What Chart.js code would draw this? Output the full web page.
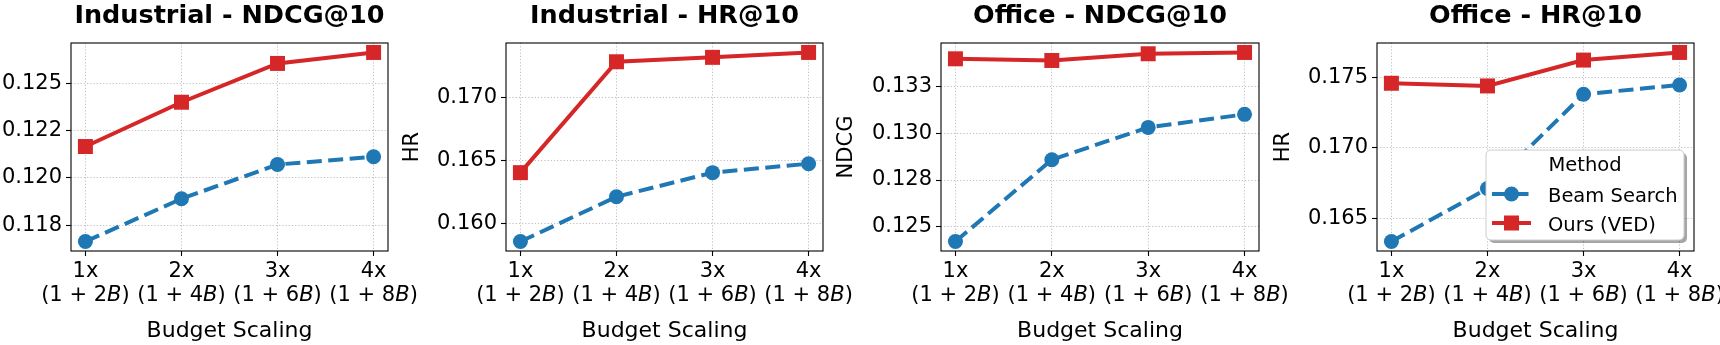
<!DOCTYPE html>
<html>
<head>
<meta charset="utf-8">
<script src="https://cdn.jsdelivr.net/npm/chart.js@4.4.1/dist/chart.umd.min.js"></script>
<style>
  html, body { margin: 0; padding: 0; background: #fff; }
  #wrap { position: relative; width: 1720px; height: 345px; overflow: hidden; }
  canvas { position: absolute; top: 0; }
</style>
</head>
<body>
<div id="wrap">
  <canvas id="c0"></canvas>
  <canvas id="c1"></canvas>
  <canvas id="c2"></canvas>
  <canvas id="c3"></canvas>
</div>
<script>
// x categories
const budgets = ['1x', '2x', '3x', '4x'];
const budgetCost = ['(1 + 2B)', '(1 + 4B)', '(1 + 6B)', '(1 + 8B)'];
const methods = ['Beam Search', 'Ours (VED)'];

// Industrial
const indNdcgBeam = [0.11664, 0.11890, 0.12071, 0.12112];
const indNdcgOurs = [0.12166, 0.12400, 0.12605, 0.12663];
const indHrBeam = [0.15855, 0.16211, 0.16403, 0.16474];
const indHrOurs = [0.16403, 0.17285, 0.17320, 0.17359];

// Office
const offNdcgBeam = [0.12420, 0.12859, 0.13032, 0.13102];
const offNdcgOurs = [0.13400, 0.13391, 0.13427, 0.13434];
const offHrBeam = [0.16338, 0.16713, 0.17380, 0.17446];
const offHrOurs = [0.17458, 0.17439, 0.17622, 0.17676];

// y ticks
const indNdcgTicks = [0.1175, 0.1200, 0.1225, 0.1250];
const indNdcgTickLabels = ['0.118', '0.120', '0.122', '0.125'];
const indHrTicks = [0.160, 0.165, 0.170];
const indHrTickLabels = ['0.160', '0.165', '0.170'];
const offNdcgTicks = [0.1250, 0.1275, 0.1300, 0.1325];
const offNdcgTickLabels = ['0.125', '0.128', '0.130', '0.133'];
const offHrTicks = [0.165, 0.170, 0.175];
const offHrTickLabels = ['0.165', '0.170', '0.175'];

const BLUE = '#1f77b4';
const RED = '#d62728';
const FONT = "'DejaVu Sans', sans-serif";

const panels = [
  { id: 'c0', left: 0, width: 440, axLeft: 71, axRight: 388, title: 'Industrial - NDCG@10', ylabel: '',
    beam: indNdcgBeam, ours: indNdcgOurs, ticks: indNdcgTicks, tickLabels: indNdcgTickLabels },
  { id: 'c1', left: 400, width: 470, axLeft: 506, axRight: 823, title: 'Industrial - HR@10', ylabel: 'HR',
    beam: indHrBeam, ours: indHrOurs, ticks: indHrTicks, tickLabels: indHrTickLabels },
  { id: 'c2', left: 834, width: 470, axLeft: 941, axRight: 1259, title: 'Office - NDCG@10', ylabel: 'NDCG',
    beam: offNdcgBeam, ours: offNdcgOurs, ticks: offNdcgTicks, tickLabels: offNdcgTickLabels },
  { id: 'c3', left: 1271, width: 449, axLeft: 1377, axRight: 1694, title: 'Office - HR@10', ylabel: 'HR',
    beam: offHrBeam, ours: offHrOurs, ticks: offHrTicks, tickLabels: offHrTickLabels, legend: true },
];

function roundRect(ctx, x, y, w, h, r) {
  ctx.beginPath();
  ctx.moveTo(x + r, y);
  ctx.arcTo(x + w, y, x + w, y + h, r);
  ctx.arcTo(x + w, y + h, x, y + h, r);
  ctx.arcTo(x, y + h, x, y, r);
  ctx.arcTo(x, y, x + w, y, r);
  ctx.closePath();
}

// frame, title, two-line x tick labels, legend
const decor = {
  id: 'decor',
  afterDatasetsDraw(chart) {
    const { ctx, chartArea: a } = chart;
    ctx.save();
    ctx.strokeStyle = '#000';
    ctx.lineWidth = 1.1;
    ctx.strokeRect(a.left, a.top, a.right - a.left, a.bottom - a.top);
    ctx.restore();
  },
  afterDraw(chart) {
    const { ctx, chartArea: a } = chart;
    const p = chart.options.plugins.decor;
    const xs = chart.scales.x;
    ctx.save();
    ctx.fillStyle = '#000';
    ctx.textBaseline = 'alphabetic';

    // title
    ctx.font = 'bold 25.5px ' + FONT;
    ctx.textAlign = 'center';
    ctx.fillText(p.title, (a.left + a.right) / 2, 23);

    // x tick labels
    budgets.forEach((b, i) => {
      const x = xs.getPixelForValue(i);
      ctx.font = '21px ' + FONT;
      ctx.textAlign = 'center';
      ctx.fillText(b, x, 277);
      const parts = budgetCost[i].split('B');
      const normal = '21px ' + FONT, ital = 'italic 21px ' + FONT;
      ctx.font = normal;
      const w0 = ctx.measureText(parts[0]).width;
      const w2 = ctx.measureText(parts[1]).width;
      ctx.font = ital;
      const w1 = ctx.measureText('B').width;
      let sx = x - (w0 + w1 + w2) / 2;
      ctx.textAlign = 'left';
      ctx.font = normal; ctx.fillText(parts[0], sx, 301); sx += w0;
      ctx.font = ital; ctx.fillText('B', sx, 301); sx += w1;
      ctx.font = normal; ctx.fillText(parts[1], sx, 301);
    });

    // legend
    if (p.legend) {
      const w = 198, h = 90;
      const lx = a.right - 10 - w, ly = a.bottom - 11 - h;
      ctx.fillStyle = 'rgba(0,0,0,0.35)';
      roundRect(ctx, lx + 3, ly + 3, w, h, 5);
      ctx.fill();
      ctx.fillStyle = '#fff';
      roundRect(ctx, lx, ly, w, h, 5);
      ctx.fill();
      ctx.strokeStyle = '#cccccc';
      ctx.lineWidth = 1;
      ctx.stroke();

      ctx.fillStyle = '#000';
      ctx.font = '19.5px ' + FONT;
      ctx.textAlign = 'center';
      ctx.fillText('Method', lx + w / 2, ly + 21);

      const rows = [
        { label: methods[0], color: BLUE, dash: [15, 6.5], shape: 'circle', y: ly + 44 },
        { label: methods[1], color: RED, dash: [], shape: 'rect', y: ly + 73 },
      ];
      rows.forEach(r => {
        ctx.strokeStyle = r.color;
        ctx.fillStyle = r.color;
        ctx.lineWidth = 4;
        ctx.setLineDash(r.dash);
        ctx.beginPath();
        ctx.moveTo(lx + 6, r.y);
        ctx.lineTo(lx + 45, r.y);
        ctx.stroke();
        ctx.setLineDash([]);
        ctx.beginPath();
        if (r.shape === 'circle') ctx.arc(lx + 25.5, r.y, 7.5, 0, Math.PI * 2);
        else ctx.rect(lx + 25.5 - 7.5, r.y - 7.5, 15, 15);
        ctx.fill();
        ctx.fillStyle = '#000';
        ctx.font = '19.5px ' + FONT;
        ctx.textAlign = 'left';
        ctx.fillText(r.label, lx + 62, r.y + 7.5);
      });
    }
    ctx.restore();
  }
};

panels.forEach(p => {
  const canvas = document.getElementById(p.id);
  canvas.width = p.width;
  canvas.height = 345;
  canvas.style.left = p.left + 'px';

  const all = p.beam.concat(p.ours);
  const lo = Math.min(...all), hi = Math.max(...all);
  const m = (hi - lo) * 0.05;

  const gridOpts = {
    color: 'rgba(176,176,176,0.8)',
    lineWidth: 1,
    tickLength: 5,
    tickColor: '#000',
    tickWidth: 1.1,
    tickBorderDash: [],
  };

  new Chart(canvas, {
    type: 'line',
    data: {
      datasets: [
        {
          label: methods[0],
          data: p.beam.map((v, i) => ({ x: i, y: v })),
          borderColor: BLUE,
          backgroundColor: BLUE,
          borderWidth: 4,
          borderDash: [15, 6.5],
          pointStyle: 'circle',
          pointRadius: 7.5,
          pointBorderWidth: 0,
          order: 1,
          clip: false
        },
        {
          label: methods[1],
          data: p.ours.map((v, i) => ({ x: i, y: v })),
          borderColor: RED,
          backgroundColor: RED,
          borderWidth: 4,
          pointStyle: 'rect',
          pointRadius: 10.6,
          pointBorderWidth: 0,
          order: 0,
          clip: false
        }
      ]
    },
    options: {
      responsive: false,
      animation: false,
      events: [],
      layout: { padding: { top: 43, left: 0, bottom: 0, right: p.left + p.width - p.axRight } },
      plugins: {
        legend: { display: false },
        tooltip: { enabled: false },
        decor: { title: p.title, legend: !!p.legend }
      },
      scales: {
        x: {
          type: 'linear',
          min: -0.15,
          max: 3.15,
          afterBuildTicks: s => { s.ticks = budgets.map((b, i) => ({ value: i })); },
          afterFit: s => { s.height = 94; },
          ticks: { display: false },
          grid: gridOpts,
          border: { display: false, dash: [1.2, 2] },
          title: {
            display: true,
            text: 'Budget Scaling',
            color: '#000',
            font: { family: FONT, size: 22 },
            padding: { top: 0, bottom: 1 }
          }
        },
        y: {
          min: lo - m,
          max: hi + m,
          afterBuildTicks: s => { s.ticks = p.ticks.map(v => ({ value: v })); },
          afterFit: s => { s.width = p.axLeft - p.left; },
          ticks: {
            callback: (v, i) => p.tickLabels[i],
            color: '#000',
            font: { family: FONT, size: 21 },
            padding: 4
          },
          grid: gridOpts,
          border: { display: false, dash: [1.2, 2] },
          title: {
            display: !!p.ylabel,
            text: p.ylabel,
            color: '#000',
            font: { family: FONT, size: 21 },
            padding: { top: 0, bottom: 0 }
          }
        }
      }
    },
    plugins: [decor]
  });
});
</script>
</body>
</html>
